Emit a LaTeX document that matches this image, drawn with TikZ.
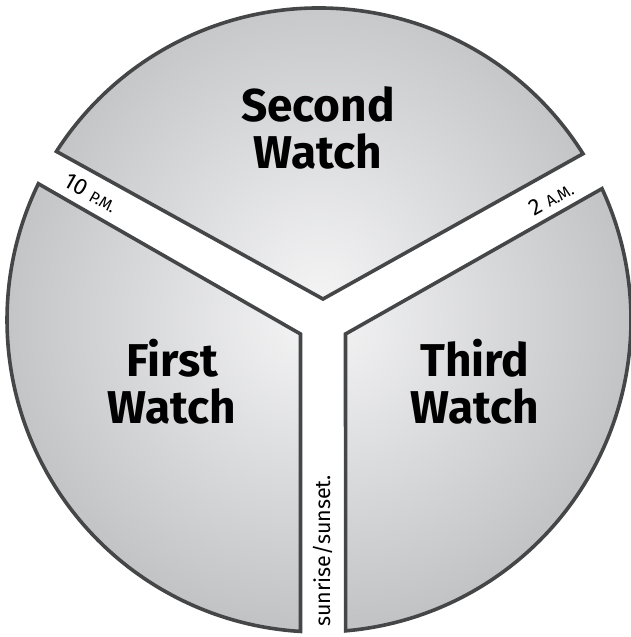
\documentclass[tikz,border=0pt]{standalone}
\usepackage{fontspec}
\setmainfont{Fira Sans}
\usetikzlibrary{calc}
\definecolor{watchedge}{HTML}{454647}
\definecolor{watchlight}{HTML}{F4F4F5}
\definecolor{watchdark}{HTML}{C1C2C4}
\begin{document}
\begin{tikzpicture}[
  x=1pt, y=1pt,
  sector/.style={draw=watchedge, line width=3.6pt, line join=miter,
    path picture={\shade[inner color=watchlight, outer color=watchdark] (ctr) circle[radius=312pt];}},
  watchlabel/.style={font=\fontsize{46}{47}\selectfont\bfseries, align=center, text=black},
  timelabel/.style={font=\fontsize{23}{23}\selectfont, inner sep=0pt}
]
  \useasboundingbox (0,0) rectangle (630,637);
  \coordinate (ctr) at (319,317);
  \coordinate (tipsecond) at (323,338);
  \coordinate (tipfirst) at (300.5,303);
  \coordinate (tipthird) at (345.5,303);

  % the three watches
  \draw[sector] (tipsecond) -- ($(ctr)+(32.2:312pt)$) arc[start angle=32.2, end angle=147.3, radius=312pt] -- cycle;
  \draw[sector] (tipfirst) -- ($(ctr)+(154.1:312pt)$) arc[start angle=154.1, end angle=266.6, radius=312pt] -- cycle;
  \draw[sector] (tipthird) -- ($(ctr)+(-85.1:312pt)$) arc[start angle=-85.1, end angle=24.9, radius=312pt] -- cycle;

  \node[watchlabel] (second) at (318,509) {Second\\Watch};
  \node[watchlabel] (first) at (172,255) {First\\Watch};
  \node[watchlabel] (third) at (475,255) {Third\\Watch};

  % times in the gaps
  \node[timelabel, rotate=-29.5] (tenpm) at (91,444) {10 {\fontsize{16}{16}\selectfont P.M.}};
  \node[timelabel, rotate=29.5] (twoam) at (551,439) {2 {\fontsize{16}{16}\selectfont A.M.}};
  \node[timelabel, rotate=90, anchor=west, font=\fontsize{21.5}{21.5}\selectfont] (dawn) at (322.5,10) {sunrise/sunset.};
\end{tikzpicture}
\end{document}
